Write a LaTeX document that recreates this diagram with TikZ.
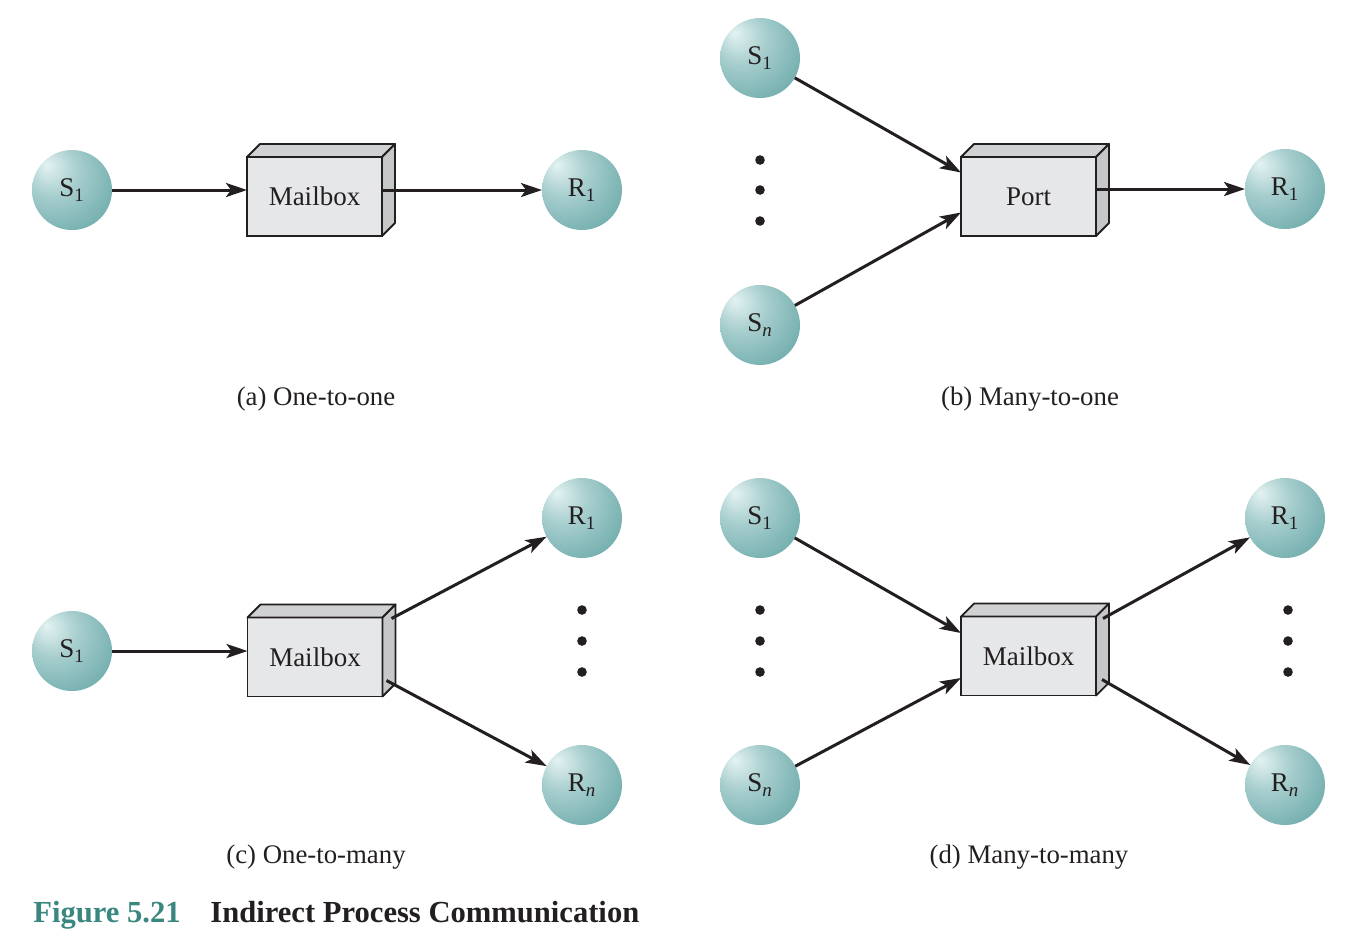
\documentclass[tikz,border=0pt]{standalone}
\usepackage{fontspec}
\setmainfont{Liberation Serif}
\usetikzlibrary{arrows.meta}
\definecolor{ink}{RGB}{35,31,32}
\definecolor{sphhi}{RGB}{228,242,242}
\definecolor{sphmid}{RGB}{108,170,170}
\definecolor{sphlo}{RGB}{72,140,140}
\definecolor{boxfrontc}{RGB}{230,231,233}
\definecolor{boxtopc}{RGB}{208,209,211}
\definecolor{boxsidec}{RGB}{198,199,201}
\definecolor{figteal}{RGB}{58,135,128}
\pgfdeclareradialshading{sphereshade}{\pgfpoint{-16bp}{16bp}}{color(0bp)=(sphhi); color(16bp)=(sphmid!50!sphhi); color(40bp)=(sphmid); color(73bp)=(sphlo)}
\tikzset{
  sph/.style={circle, minimum size=40pt, inner sep=0pt, outer sep=0pt, shade, shading=sphereshade, text=ink, font=\fontsize{13.5}{16}\selectfont},
  boxfront/.style={rectangle, draw=ink, line width=0.9pt, fill=boxfrontc, minimum width=67.5pt, minimum height=39.5pt, inner sep=0pt, outer sep=0pt, text=ink, font=\fontsize{13.5}{16}\selectfont},
  boxline/.style={draw=ink, line width=0.9pt, line join=round},
  arr/.style={draw=ink, line width=1.5pt, -{Stealth[length=10.5pt,width=7pt,inset=2.5pt]}},
  captext/.style={text=ink, font=\fontsize{13.4}{16}\selectfont},
  dotmark/.style={fill=ink}
}
\newcommand\threedbox[4]{%
  \node[boxfront] (#1) at (#2,#3) {#4};
  \filldraw[boxline, fill=boxtopc] (#1.north west) -- ++(6.5pt,6.5pt) -- ([shift={(6.5pt,6.5pt)}]#1.north east) -- (#1.north east) -- cycle;
  \filldraw[boxline, fill=boxsidec] (#1.north east) -- ++(6.5pt,6.5pt) -- ([shift={(6.5pt,6.5pt)}]#1.south east) -- (#1.south east) -- cycle;
}
\begin{document}
\begin{tikzpicture}[x=0.5pt, y=-0.5pt]
\useasboundingbox (0,0) rectangle (1356,950);

% (a) One-to-one
\node[sph] (s1a) at (72,190) {S\textsubscript{1}};
\threedbox{mba}{314.5}{196.5}{Mailbox}
\node[sph] (r1a) at (582,190) {R\textsubscript{1}};
\draw[arr] (s1a) -- (mba.west |- s1a);
\draw[arr] (mba.east |- r1a) -- (r1a);
\node[captext] (capa) at (316,399) {(a) One-to-one};

% (b) Many-to-one
\node[sph] (s1b) at (760,58) {S\textsubscript{1}};
\node[sph] (snb) at (760,325) {S\textsubscript{\itshape n}};
\threedbox{portb}{1028.5}{196.5}{Port}
\node[sph] (r1b) at (1285,189) {R\textsubscript{1}};
\fill[dotmark] (760,160) circle (2.4pt) (760,190) circle (2.4pt) (760,221) circle (2.4pt);
\draw[arr] (s1b) -- ([yshift=12pt]portb.west);
\draw[arr] (snb) -- ([yshift=-8pt]portb.west);
\draw[arr] (portb.east |- r1b) -- (r1b);
\node[captext] (capb) at (1030,399) {(b) Many-to-one};

% (c) One-to-many
\node[sph] (s1c) at (72,651) {S\textsubscript{1}};
\threedbox{mbc}{315}{657}{Mailbox}
\node[sph] (r1c) at (582,518) {R\textsubscript{1}};
\node[sph] (rnc) at (582,785) {R\textsubscript{\itshape n}};
\fill[dotmark] (582,610) circle (2.4pt) (582,641) circle (2.4pt) (582,672) circle (2.4pt);
\draw[arr] (s1c) -- (mbc.west |- s1c);
\draw[arr] ([shift={(4.5pt,-0.5pt)}]mbc.north east) -- (r1c);
\draw[arr] ([shift={(2pt,8pt)}]mbc.south east) -- (rnc);
\node[captext] (capc) at (316,857) {(c) One-to-many};

% (d) Many-to-many
\node[sph] (s1d) at (760,518) {S\textsubscript{1}};
\node[sph] (snd) at (760,785) {S\textsubscript{\itshape n}};
\threedbox{mbd}{1028.5}{656}{Mailbox}
\node[sph] (r1d) at (1285,518) {R\textsubscript{1}};
\node[sph] (rnd) at (1285,785) {R\textsubscript{\itshape n}};
\fill[dotmark] (760,610) circle (2.4pt) (760,641) circle (2.4pt) (760,672) circle (2.4pt);
\fill[dotmark] (1288,610) circle (2.4pt) (1288,641) circle (2.4pt) (1288,672) circle (2.4pt);
\draw[arr] (s1d) -- ([yshift=11.5pt]mbd.west);
\draw[arr] (snd) -- ([yshift=-11pt]mbd.west);
\draw[arr] ([shift={(3.5pt,-1pt)}]mbd.north east) -- (r1d);
\draw[arr] ([shift={(3pt,8pt)}]mbd.south east) -- (rnd);
\node[captext] (capd) at (1029,857) {(d) Many-to-many};

% Title
\node[anchor=base west, inner sep=0pt, text=figteal, font=\fontsize{15.3}{18}\selectfont\bfseries] (fignum) at (33,922) {Figure 5.21};
\node[anchor=base west, inner sep=0pt, text=ink, font=\fontsize{15.3}{18}\selectfont\bfseries] (figtitle) at (210,922) {Indirect Process Communication};
\end{tikzpicture}
\end{document}
